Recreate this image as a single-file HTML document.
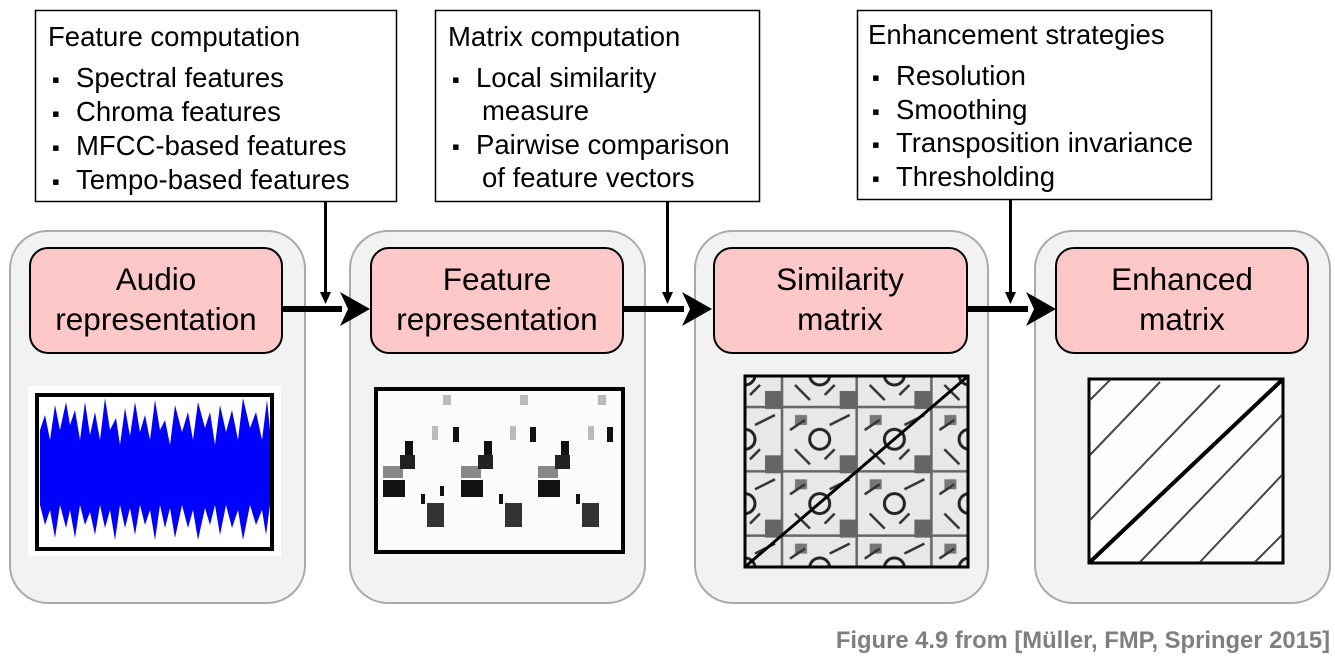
<!DOCTYPE html>
<html><head><meta charset="utf-8"><style>
html,body{margin:0;padding:0;background:#fff;}
svg{display:block;font-family:"Liberation Sans",Arial,sans-serif;}
</style></head><body>
<svg width="1335" height="659" viewBox="0 0 1335 659" xmlns="http://www.w3.org/2000/svg">
<defs>
<pattern id="sim" x="745" y="375" width="74.7" height="64.3" patternUnits="userSpaceOnUse">
<rect width="74.7" height="64.3" fill="#e8e8e8"/>
<rect x="20" y="16" width="18" height="18" fill="#444" opacity=".8"/>
<rect x="50" y="40" width="12" height="10" fill="#777"/>
<circle cx="0" cy="0" r="10" fill="none" stroke="#222" stroke-width="3"/>
<circle cx="74.7" cy="64.3" r="10" fill="none" stroke="#222" stroke-width="3"/>
<circle cx="74.7" cy="0" r="10" fill="none" stroke="#222" stroke-width="3"/>
<circle cx="0" cy="64.3" r="10" fill="none" stroke="#222" stroke-width="3"/>
<path d="M0,32 L74.7,32 M37,0 L37,64.3" stroke="#666" stroke-width="2.5"/>
<path d="M10,50 L30,40 M50,10 L65,25 M5,20 L15,10 M45,55 L60,45" stroke="#333" stroke-width="2.5"/>
</pattern>
</defs>
<rect x="35.5" y="10.5" width="361" height="191" fill="#fff" stroke="#000" stroke-width="1.5"/>
<rect x="435.5" y="10.5" width="324" height="191" fill="#fff" stroke="#000" stroke-width="1.5"/>
<rect x="857.5" y="10.5" width="354" height="189" fill="#fff" stroke="#000" stroke-width="1.5"/>
<g font-size="27.5" fill="#000">
<text x="48" y="46">Feature computation</text>
<text x="52" y="87" font-size="22">▪</text><text x="76" y="87">Spectral features</text>
<text x="52" y="121" font-size="22">▪</text><text x="76" y="121">Chroma features</text>
<text x="52" y="155" font-size="22">▪</text><text x="76" y="155">MFCC-based features</text>
<text x="52" y="189" font-size="22">▪</text><text x="76" y="189">Tempo-based features</text>
<text x="448" y="46">Matrix computation</text>
<text x="452" y="87" font-size="22">▪</text><text x="476" y="87">Local similarity</text>
<text x="482" y="120">measure</text>
<text x="452" y="154" font-size="22">▪</text><text x="476" y="154">Pairwise comparison</text>
<text x="482" y="187">of feature vectors</text>
<text x="868" y="44">Enhancement strategies</text>
<text x="872" y="85" font-size="22">▪</text><text x="896" y="85">Resolution</text>
<text x="872" y="119" font-size="22">▪</text><text x="896" y="119">Smoothing</text>
<text x="872" y="152" font-size="22">▪</text><text x="896" y="152">Transposition invariance</text>
<text x="872" y="186" font-size="22">▪</text><text x="896" y="186">Thresholding</text>
</g>
<g fill="#f2f2f2" stroke="#aaa" stroke-width="2">
<rect x="10" y="231" width="295" height="372" rx="38"/>
<rect x="350" y="231" width="295" height="372" rx="38"/>
<rect x="695" y="231" width="293" height="372" rx="38"/>
<rect x="1035" y="231" width="295" height="372" rx="38"/>
</g>
<g fill="#000">
<rect x="324" y="202" width="3" height="92"/><path d="M320,292 L331,292 L325.5,304 Z"/>
<rect x="666" y="202" width="3" height="92"/><path d="M662,292 L673,292 L667.5,304 Z"/>
<rect x="1009" y="200" width="3" height="94"/><path d="M1005,292 L1016,292 L1010.5,304 Z"/>
<rect x="282" y="306" width="60" height="6"/><path d="M340,292 L370,309 L340,326 L348,309 Z"/>
<rect x="622" y="306" width="62" height="6"/><path d="M682,292 L712,309 L682,326 L690,309 Z"/>
<rect x="966" y="306" width="62" height="6"/><path d="M1026,292 L1056,309 L1026,326 L1034,309 Z"/>
</g>
<g fill="#ffc8c8" stroke="#000" stroke-width="2">
<rect x="30" y="248" width="252" height="105" rx="18"/>
<rect x="371" y="248" width="252" height="105" rx="18"/>
<rect x="714" y="248" width="253" height="105" rx="18"/>
<rect x="1056" y="248" width="252" height="105" rx="18"/>
</g>
<g font-size="31.5" text-anchor="middle" fill="#000">
<text x="156" y="290">Audio</text><text x="156" y="330">representation</text>
<text x="497" y="290">Feature</text><text x="497" y="330">representation</text>
<text x="840" y="290">Similarity</text><text x="840" y="330">matrix</text>
<text x="1182" y="290">Enhanced</text><text x="1182" y="330">matrix</text>
</g>
<rect x="28" y="386" width="253" height="170" fill="#fff"/>
<rect x="37" y="395" width="235" height="154" fill="#fff" stroke="#000" stroke-width="4"/>
<path fill="#0000ff" d="M40,470 L40,430 L45,415 L50,440 L55,405 L60,430 L66,402 L70,425 L75,410 L80,440 L85,402 L90,435 L95,412 L100,440 L105,398 L110,430 L116,418 L120,445 L125,408 L130,436 L135,402 L140,432 L145,415 L150,440 L155,400 L160,430 L165,420 L170,445 L175,405 L182,432 L188,412 L193,440 L198,402 L205,428 L210,412 L215,445 L220,405 L226,432 L232,410 L238,440 L243,398 L250,428 L256,412 L262,440 L267,400 L270,430 L270,505 L266,535 L262,510 L256,525 L250,505 L243,540 L238,510 L232,528 L226,505 L220,535 L215,505 L210,525 L205,508 L198,540 L193,510 L188,528 L182,505 L175,538 L170,508 L165,528 L160,505 L155,540 L150,510 L145,525 L140,505 L135,535 L130,508 L125,528 L120,505 L115,540 L110,510 L105,528 L100,505 L95,535 L90,512 L85,525 L80,505 L75,538 L70,510 L66,528 L60,505 L55,538 L50,510 L45,525 L40,505 Z"/>
<rect x="376" y="389" width="247" height="163" fill="#fbfbfb" stroke="#000" stroke-width="4"/>
<g fill="#111">
<rect x="383" y="480" width="22" height="17"/><rect x="383" y="466" width="20" height="12" fill="#888"/>
<rect x="400" y="455" width="15" height="14" fill="#222"/><rect x="405" y="441" width="8" height="14"/>
<rect x="421" y="494" width="4" height="10"/><rect x="427" y="503" width="17" height="24" fill="#333"/>
<rect x="440" y="486" width="4" height="10"/><rect x="453" y="427" width="6" height="15"/>
<rect x="461" y="480" width="22" height="17"/><rect x="461" y="466" width="20" height="12" fill="#888"/>
<rect x="478" y="455" width="15" height="14" fill="#222"/><rect x="484" y="441" width="8" height="14"/>
<rect x="499" y="494" width="4" height="10"/><rect x="505" y="503" width="17" height="24" fill="#333"/>
<rect x="530" y="427" width="6" height="15"/>
<rect x="538" y="480" width="22" height="17"/><rect x="538" y="466" width="20" height="12" fill="#888"/>
<rect x="555" y="455" width="15" height="14" fill="#222"/><rect x="561" y="441" width="8" height="14"/>
<rect x="576" y="494" width="4" height="10"/><rect x="582" y="503" width="17" height="24" fill="#333"/>
<rect x="607" y="427" width="6" height="15"/>
</g>
<g fill="#bbb"><rect x="443" y="395" width="8" height="10"/><rect x="520" y="395" width="8" height="10"/><rect x="598" y="395" width="8" height="10"/><rect x="432" y="426" width="6" height="14"/><rect x="510" y="426" width="6" height="14"/><rect x="588" y="426" width="6" height="14"/></g>
<rect x="745" y="376" width="223" height="191" fill="url(#sim)" stroke="#000" stroke-width="3"/>
<line x1="746" y1="566" x2="967" y2="377" stroke="#000" stroke-width="3"/>
<rect x="1089" y="379" width="194" height="184" fill="#fefefe" stroke="#000" stroke-width="3"/>
<g stroke="#444" stroke-width="2" fill="none">
<line x1="1090" y1="400" x2="1110" y2="380"/>
<line x1="1090" y1="455" x2="1160" y2="382"/>
<line x1="1090" y1="520" x2="1220" y2="385"/>
<line x1="1140" y1="562" x2="1282" y2="415"/>
<line x1="1200" y1="562" x2="1282" y2="475"/>
<line x1="1255" y1="562" x2="1282" y2="535"/>
</g>
<line x1="1090" y1="562" x2="1282" y2="380" stroke="#000" stroke-width="4"/>
<text x="1330" y="648" text-anchor="end" font-size="23.8" font-weight="bold" fill="#7f7f7f">Figure 4.9 from [Müller, FMP, Springer 2015]</text>
</svg>
</body></html>
